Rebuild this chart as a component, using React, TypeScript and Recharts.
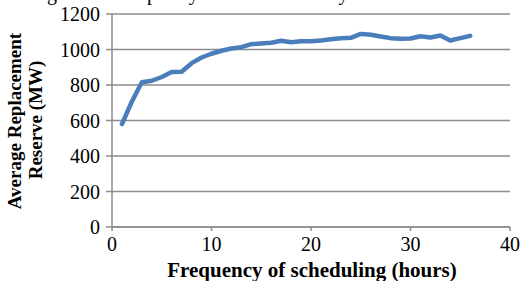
import React from "react";
import { LineChart, Line, XAxis, YAxis, CartesianGrid } from "recharts";

const hours = [1,2,3,4,5,6,7,8,9,10,11,12,13,14,15,16,17,18,19,20,21,22,23,24,25,26,27,28,29,30,31,32,33,34,35,36];
const reserve = [580,707,815,824,845,873,875,923,955,976,993,1006,1013,1030,1034,1038,1049,1041,1047,1047,1051,1058,1064,1066,1088,1083,1073,1064,1060,1062,1075,1068,1079,1051,1064,1077];
const xTicks = [0,10,20,30,40];
const yTicks = [0,200,400,600,800,1000,1200];

const data = hours.map((h, i) => ({ h, v: reserve[i] }));

const serif = "'Liberation Serif', 'Times New Roman', serif";

export default function App() {
  return (
    <div style={{ position: "absolute", left: 0, top: 0, width: 520, height: 281, overflow: "hidden", background: "#fff" }}>
      <div style={{ position: "absolute", left: 47, top: -18, fontFamily: serif, fontSize: 20, lineHeight: "23px", whiteSpace: "nowrap", color: "#000", letterSpacing: 0.6 }}>
        ge of the capacity of the case study market
      </div>
      <LineChart width={520} height={281} data={data} margin={{ top: 14, right: 10, bottom: 23, left: 0 }}>
        <CartesianGrid vertical={false} stroke="#8c8c8c" strokeWidth={1.5} />
        <XAxis
          dataKey="h"
          type="number"
          domain={[0, 40]}
          ticks={xTicks}
          height={31}
          tickSize={4}
          tickMargin={6}
          stroke="#8c8c8c"
          strokeWidth={1.5}
          tick={{ fill: "#000", fontFamily: serif, fontSize: 20 }}
          interval={0}
        />
        <YAxis
          type="number"
          domain={[0, 1200]}
          ticks={yTicks}
          width={112}
          tickSize={6}
          tickMargin={6}
          stroke="#8c8c8c"
          strokeWidth={1.5}
          tick={{ fill: "#000", fontFamily: serif, fontSize: 20 }}
          interval={0}
        />
        <Line dataKey="v" stroke="#4a7ebb" strokeWidth={4.5} dot={false} isAnimationActive={false} strokeLinejoin="round" strokeLinecap="round" />
      </LineChart>
      <svg width={520} height={281} style={{ position: "absolute", left: 0, top: 0, pointerEvents: "none" }}>
        <text x={312} y={277} textAnchor="middle" fontFamily={serif} fontWeight="bold" fontSize={21} fill="#000">
          Frequency of scheduling (hours)
        </text>
        <text x={21} y={121} textAnchor="middle" fontFamily={serif} fontWeight="bold" fontSize={19} fill="#000" transform="rotate(-90 21 121)">
          Average Replacement
        </text>
        <text x={42} y={120} textAnchor="middle" fontFamily={serif} fontWeight="bold" fontSize={19} fill="#000" transform="rotate(-90 42 120)">
          Reserve (MW)
        </text>
      </svg>
    </div>
  );
}
